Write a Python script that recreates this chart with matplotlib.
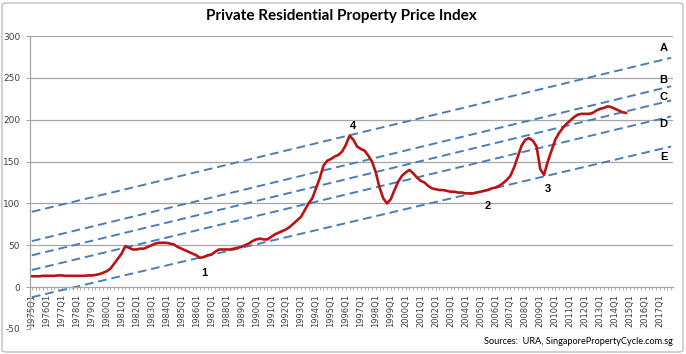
import matplotlib
matplotlib.use("Agg")
import matplotlib.pyplot as plt
from matplotlib.patches import FancyBboxPatch

# ---------------- data ----------------
quarters = [f"{y}Q{q}" for y in range(1975, 2018) for q in range(1, 5)]

price_index = [
    13, 13, 13, 13.5,        # 1975
    13.5, 13.5, 13.5, 14,    # 1976
    14, 13.5, 13.5, 13.5,    # 1977
    13.5, 13.5, 13.5, 14,    # 1978
    14, 14.5, 15.5, 17,      # 1979
    19, 22, 28, 34,          # 1980
    40, 49, 47, 45,          # 1981
    45, 46, 46, 48,          # 1982
    50, 52, 53, 53,          # 1983
    53, 52, 51, 48,          # 1984
    46, 44, 42, 40,          # 1985
    38, 35, 36, 38,          # 1986
    39, 42, 45, 45,          # 1987
    45, 45, 46, 47,          # 1988
    48, 50, 52, 55,          # 1989
    57, 58, 57, 57,          # 1990
    60, 63, 65, 67,          # 1991
    69, 72, 76, 80,          # 1992
    84, 92, 100, 106,        # 1993
    118, 130, 145, 151,      # 1994
    153, 156, 158, 162,      # 1995
    170, 181, 176, 168,      # 1996
    165, 163, 157, 150,      # 1997
    137, 119, 106, 100,      # 1998
    105, 116, 126, 133,      # 1999
    137, 140, 136, 131,      # 2000
    127, 125, 121, 118,      # 2001
    117, 116, 116, 115,      # 2002
    114, 114, 113, 113,      # 2003
    112, 112, 112, 113,      # 2004
    114, 115, 116, 118,      # 2005
    119, 121, 124, 128,      # 2006
    133, 143, 156, 169,      # 2007
    176, 178, 175, 168,      # 2008
    141, 134, 150, 163,      # 2009
    176, 184, 190, 195,      # 2010
    199, 203, 206, 207,      # 2011
    207, 207, 208, 211,      # 2012
    213, 214, 216, 215,      # 2013
    213, 211, 209, 208,      # 2014
]

trend_names = ["A", "B", "C", "D", "E"]
trend_start = [90, 55, 38, 20.5, -12]     # value at 1975Q1
trend_end = [274, 240, 223, 204, 168]     # value at 2017Q4
trend_label_y = [286, 248, 227, 195, 155]

cycle_labels = ["1", "2", "3", "4"]
cycle_label_q = ["1986Q3", "2005Q3", "2009Q3", "1996Q3"]
cycle_label_y = [17, 97, 117, 192]

y_ticks = [-50, 0, 50, 100, 150, 200, 250, 300]

# ---------------- figure ----------------
W, H = 686, 354
fig = plt.figure(figsize=(W / 100, H / 100), dpi=100)
fig.patch.set_facecolor("white")

left, right, top, bottom = 30, 673, 36, 329
ax = fig.add_axes([left / W, 1 - bottom / H, (right - left) / W, (bottom - top) / H])

xs = list(range(len(quarters)))
n = len(quarters)

# grid
for v in y_ticks:
    if v != 0:
        ax.axhline(v, color="#a6a6a6", lw=0.9, zorder=1)

# trend lines
red = "#b81414"
blue = "#4a7ebb"
for name, s, e in zip(trend_names, trend_start, trend_end):
    ax.plot([xs[0], xs[-1]], [s, e], color=blue, lw=1.4, ls=(0, (4.5, 2.5)), zorder=2)

# price line
ax.plot(xs[:len(price_index)], price_index, color=red, lw=1.9, zorder=3,
        solid_joinstyle="round", solid_capstyle="round")

ax.set_xlim(-0.5, n - 0.5)
ax.set_ylim(-50, 300)

# axes styling
for sp in ["top", "right"]:
    ax.spines[sp].set_visible(False)
ax.spines["left"].set_color("#a6a6a6")
ax.spines["left"].set_linewidth(0.9)
ax.spines["bottom"].set_position(("data", 0))
ax.spines["bottom"].set_color("#a6a6a6")
ax.spines["bottom"].set_linewidth(0.9)

ax.set_yticks(y_ticks)
ax.set_yticklabels([str(v) for v in y_ticks])
ax.tick_params(axis="y", length=3, width=0.8, color="#a6a6a6", labelsize=6.5,
               labelcolor="#404040", pad=4)

ax.set_xticks(xs, minor=True)
major_idx = [i for i, q in enumerate(quarters) if q.endswith("Q1")]
ax.set_xticks(major_idx)
ax.set_xticklabels([quarters[i] for i in major_idx], rotation=90)
ax.tick_params(axis="x", which="both", length=2.5, width=0.6, color="#a6a6a6",
               labelsize=6, labelcolor="#404040", pad=2.5)

# trend labels
label_font = dict(fontsize=8, fontweight="bold", color="black", family="Liberation Sans")
for name, ly in zip(trend_names, trend_label_y):
    ax.text(n - 3.0, ly, name, ha="center", va="center", **label_font)

for lab, q, v in zip(cycle_labels, cycle_label_q, cycle_label_y):
    ax.text(quarters.index(q), v, lab, ha="center", va="center", **label_font)

# title
fig.text(0.497, 1 - 16 / H, "Private Residential Property Price Index",
         ha="center", va="center", fontsize=11, fontweight="bold", family="Lato")

# source
fig.text(673 / W, 1 - 341 / H, "Sources:  URA, SingaporePropertyCycle.com.sg",
         ha="right", va="center", fontsize=6.6, family="Lato", color="black")

# chart border
border = FancyBboxPatch((2 / W, 2 / H), (W - 5) / W, (H - 5) / H,
                        boxstyle="round,pad=0,rounding_size=0.006",
                        transform=fig.transFigure, fill=False,
                        edgecolor="#bfbfbf", lw=1.0)
fig.patches.append(border)

fig.savefig("out.png", dpi=100)
